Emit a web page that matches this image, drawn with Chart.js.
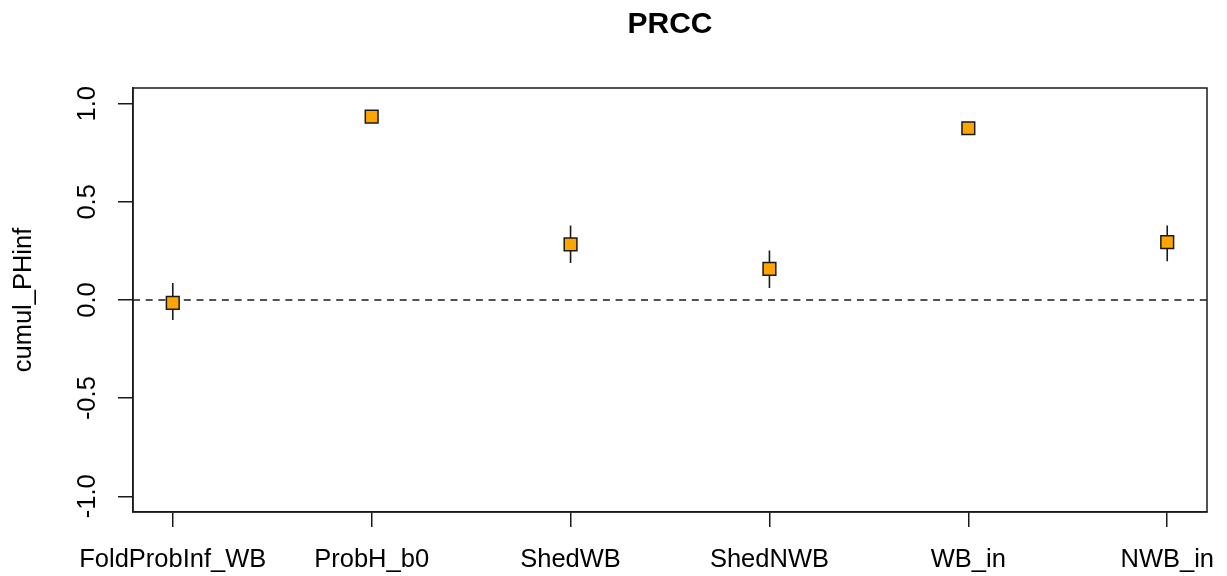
<!DOCTYPE html>
<html>
<head>
<meta charset="utf-8">
<title>PRCC</title>
<script src="https://cdn.jsdelivr.net/npm/chart.js@4/dist/chart.umd.min.js"></script>
<style>
  html, body { margin: 0; padding: 0; background: #fff; overflow: hidden; }
  #wrap { width: 1227px; height: 576px; position: relative; }
  #prcc { display: block; }
</style>
</head>
<body>
<div id="wrap"><canvas id="prcc"></canvas></div>
<script>
// Parameters and their partial rank correlation coefficients with 95% intervals
const parameters = ["FoldProbInf_WB", "ProbH_b0", "ShedWB", "ShedNWB", "WB_in", "NWB_in"];
const prccEstimate = [-0.015, 0.934, 0.283, 0.159, 0.875, 0.295];
const prccLower    = [-0.102, 0.926, 0.189, 0.061, 0.867, 0.197];
const prccUpper    = [ 0.087, 0.942, 0.380, 0.252, 0.883, 0.380];
const yTickValues  = [-1.0, -0.5, 0.0, 0.5, 1.0];
const referenceLevel = 0;

// axis limits padded 4% beyond the data range
const X_MIN = 0.8, X_MAX = parameters.length + 0.2;
const Y_MIN = -1.08, Y_MAX = 1.08;

const ink = '#1a1a1a';
Chart.defaults.font.family = '"Liberation Sans", Arial, sans-serif';
Chart.defaults.color = '#000';

const points = parameters.map((p, i) => ({ x: i + 1, y: prccEstimate[i] }));
const intervals = [];
parameters.forEach((p, i) => {
  intervals.push({ x: i + 1, y: prccLower[i] });
  intervals.push({ x: i + 1, y: prccUpper[i] });
  intervals.push({ x: i + 1, y: null });
});
const zeroLine = [{ x: X_MIN, y: referenceLevel }, { x: X_MAX, y: referenceLevel }];

// closed frame around the plotting region
const frame = {
  id: 'frame',
  afterDraw(chart) {
    const { ctx, chartArea: a } = chart;
    ctx.save();
    ctx.strokeStyle = ink;
    ctx.lineWidth = 1.5;
    ctx.strokeRect(a.left, a.top, a.right - a.left, a.bottom - a.top);
    ctx.restore();
  }
};

new Chart(document.getElementById('prcc'), {
  type: 'scatter',
  data: {
    datasets: [
      {
        label: 'PRCC',
        data: points,
        pointStyle: 'rect',
        pointRadius: 9,
        backgroundColor: '#FFA500',
        borderColor: ink,
        borderWidth: 1.5,
        order: 0
      },
      {
        type: 'line',
        label: 'interval',
        data: intervals,
        showLine: true,
        spanGaps: false,
        borderColor: ink,
        borderWidth: 1.6,
        pointRadius: 0,
        order: 1
      },
      {
        type: 'line',
        label: 'zero',
        data: zeroLine,
        borderColor: ink,
        borderWidth: 1.5,
        borderDash: [7, 5.7],
        pointRadius: 0,
        order: 2
      }
    ]
  },
  options: {
    responsive: true,
    maintainAspectRatio: false,
    animation: false,
    events: [],
    layout: { padding: { left: 0, right: 20, top: 0, bottom: 0 } },
    plugins: {
      legend: { display: false },
      tooltip: { enabled: false },
      title: {
        display: true,
        fullSize: false,
        text: 'PRCC',
        color: '#000',
        font: { size: 30, weight: 'bold', lineHeight: 1.2 },
        padding: { top: 7, bottom: 45 }
      }
    },
    scales: {
      x: {
        type: 'linear',
        min: X_MIN,
        max: X_MAX,
        afterFit(scale) {
          scale.height = 64;
          scale.paddingLeft = 0;
          scale.paddingRight = 0;
        },
        afterBuildTicks(scale) { scale.ticks = parameters.map((p, i) => ({ value: i + 1 })); },
        grid: { display: true, drawOnChartArea: false, drawTicks: true, tickLength: 15, color: ink, lineWidth: 1.5 },
        border: { display: true, color: ink, width: 1.5 },
        ticks: {
          autoSkip: false,
          maxRotation: 0,
          padding: 18,
          font: { size: 25.5 },
          color: '#000',
          callback: (v) => parameters[Math.round(v) - 1] ?? ''
        }
      },
      y: {
        type: 'linear',
        min: Y_MIN,
        max: Y_MAX,
        afterFit(scale) {
          scale.width = 133;
          scale.paddingTop = 0;
          scale.paddingBottom = 0;
        },
        afterBuildTicks(scale) { scale.ticks = yTickValues.map(v => ({ value: v })); },
        grid: { display: true, drawOnChartArea: false, drawTicks: true, tickLength: 15, color: ink, lineWidth: 1.5 },
        border: { display: true, color: ink, width: 1.5 },
        title: {
          display: true,
          text: 'cumul_PHinf',
          color: '#000',
          font: { size: 25.5, lineHeight: 1.2 },
          padding: { top: 9, bottom: 0 }
        },
        ticks: {
          autoSkip: false,
          minRotation: 90,
          maxRotation: 90,
          crossAlign: 'center',
          padding: 8,
          font: { size: 25.5 },
          color: '#000',
          callback: (v) => Number(v).toFixed(1)
        }
      }
    }
  },
  plugins: [frame]
});
</script>
</body>
</html>
